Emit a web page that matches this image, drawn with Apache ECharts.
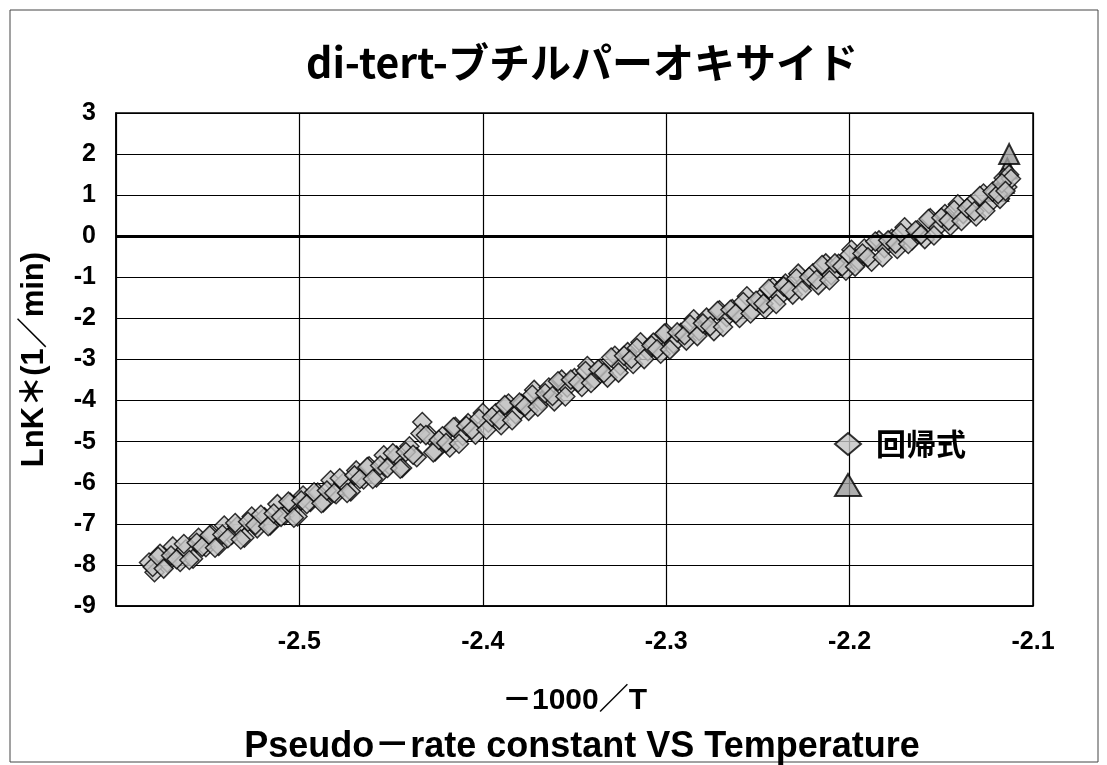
<!DOCTYPE html>
<html>
<head>
<meta charset="utf-8">
<script src="https://cdn.jsdelivr.net/npm/echarts@6/dist/echarts.min.js"></script>
<style>
html, body { margin: 0; padding: 0; background: #fff; }
#view { width: 1107px; height: 765px; }
</style>
</head>
<body>
<div id="view"></div>
<script>
var myChart = echarts.init(document.getElementById('view'));

// -1000/T values of the regression points (first pass along the band)
var regX = [
  -2.582, -2.579, -2.576, -2.572, -2.569, -2.565, -2.562, -2.558, -2.555, -2.551,
  -2.548, -2.544, -2.541, -2.537, -2.534, -2.530, -2.526, -2.523, -2.519, -2.516,
  -2.512, -2.508, -2.505, -2.501, -2.498, -2.494, -2.490, -2.487, -2.483, -2.480,
  -2.476, -2.472, -2.469, -2.465, -2.462, -2.458, -2.454, -2.451, -2.447, -2.444,
  -2.440, -2.436, -2.433, -2.429, -2.426, -2.422, -2.418, -2.415, -2.411, -2.408,
  -2.404, -2.400, -2.397, -2.393, -2.390, -2.386, -2.382, -2.379, -2.375, -2.372,
  -2.368, -2.364, -2.361, -2.357, -2.354, -2.350, -2.346, -2.343, -2.339, -2.336,
  -2.332, -2.328, -2.325, -2.321, -2.318, -2.314, -2.310, -2.307, -2.303, -2.300,
  -2.296, -2.292, -2.289, -2.285, -2.282, -2.278, -2.274, -2.271, -2.267, -2.264,
  -2.260, -2.256, -2.253, -2.249, -2.246, -2.242, -2.238, -2.235, -2.231, -2.228,
  -2.224, -2.220, -2.217, -2.213, -2.210, -2.206, -2.202, -2.199, -2.195, -2.192,
  -2.188, -2.184, -2.181, -2.177, -2.174, -2.170, -2.166, -2.163, -2.159, -2.156,
  -2.152, -2.148, -2.145, -2.141, -2.138, -2.134, -2.131, -2.127, -2.124, -2.121,
  -2.118, -2.116, -2.114, -2.113, -2.112
];
// LnK* values of the regression points (first pass)
var regY = [
  -7.94, -8.18, -7.73, -7.95, -7.55, -7.93, -7.62, -7.85, -7.34, -7.57,
  -7.26, -7.54, -7.04, -7.27, -7.06, -7.34, -6.82, -7.11, -6.84, -7.04,
  -6.52, -6.79, -6.49, -6.82, -6.31, -6.47, -6.24, -6.48, -5.94, -6.28,
  -6.00, -6.21, -5.70, -5.92, -5.60, -5.87, -5.33, -5.57, -5.34, -5.64,
  -5.11, -5.38, -4.52, -4.85, -5.24, -4.87, -5.14, -4.64, -4.86, -4.55,
  -4.83, -4.30, -4.54, -4.31, -4.60, -4.07, -4.34, -4.08, -4.25, -3.74,
  -4.01, -3.68, -4.02, -3.49, -3.68, -3.45, -3.67, -3.16, -3.48, -3.22,
  -3.44, -2.91, -3.15, -2.82, -3.11, -2.58, -2.80, -2.59, -2.86, -2.35,
  -2.62, -2.35, -2.54, -2.02, -2.31, -1.98, -2.31, -1.80, -1.97, -1.77,
  -1.99, -1.46, -1.81, -1.53, -1.77, -1.24, -1.46, -1.15, -1.42, -0.91,
  -1.13, -0.90, -1.19, -0.66, -0.95, -0.67, -0.84, -0.33, -0.61, -0.30,
  -0.62, -0.10, -0.29, -0.06, -0.31, 0.22, -0.10, 0.15, -0.07, 0.44,
  0.21, 0.54, 0.25, 0.78, 0.54, 0.77, 0.48, 1.04, 0.78, 1.07,
  0.91, 1.42, 1.20, 1.50, 1.40
];
// second pass of regression points, between the first ones
var regX2 = [
  -2.580, -2.577, -2.574, -2.570, -2.567, -2.563, -2.560, -2.556, -2.553, -2.549,
  -2.546, -2.542, -2.539, -2.535, -2.532, -2.528, -2.524, -2.521, -2.517, -2.514,
  -2.510, -2.506, -2.503, -2.499, -2.496, -2.492, -2.488, -2.485, -2.481, -2.478,
  -2.474, -2.470, -2.467, -2.463, -2.460, -2.456, -2.452, -2.449, -2.445, -2.442,
  -2.438, -2.434, -2.431, -2.427, -2.424, -2.420, -2.416, -2.413, -2.409, -2.406,
  -2.402, -2.398, -2.395, -2.391, -2.388, -2.384, -2.380, -2.377, -2.373, -2.370,
  -2.366, -2.362, -2.359, -2.355, -2.352, -2.348, -2.344, -2.341, -2.337, -2.334,
  -2.330, -2.326, -2.323, -2.319, -2.316, -2.312, -2.308, -2.305, -2.301, -2.298,
  -2.294, -2.290, -2.287, -2.283, -2.280, -2.276, -2.272, -2.269, -2.265, -2.262,
  -2.258, -2.254, -2.251, -2.247, -2.244, -2.240, -2.236, -2.233, -2.229, -2.226,
  -2.222, -2.218, -2.215, -2.211, -2.208, -2.204, -2.200, -2.197, -2.193, -2.190,
  -2.186, -2.182, -2.179, -2.175, -2.172, -2.168, -2.164, -2.161, -2.157, -2.154,
  -2.150, -2.146, -2.143, -2.139, -2.136, -2.132, -2.129, -2.126, -2.122, -2.119,
  -2.117, -2.115
];
var regY2 = [
  -8.05, -7.80, -8.09, -7.77, -7.86, -7.49, -7.88, -7.46, -7.56, -7.28,
  -7.58, -7.26, -7.35, -6.98, -7.38, -6.95, -7.03, -6.78, -7.06, -6.75,
  -6.83, -6.46, -6.85, -6.43, -6.52, -6.23, -6.50, -6.19, -6.25, -5.89,
  -6.25, -5.82, -5.91, -5.62, -5.91, -5.58, -5.64, -5.28, -5.66, -5.25,
  -5.32, -4.80, -4.84, -5.26, -4.96, -5.03, -4.65, -5.05, -4.62, -4.71,
  -4.44, -4.71, -4.40, -4.47, -4.11, -4.48, -4.05, -4.14, -3.86, -4.15,
  -3.82, -3.89, -3.53, -3.90, -3.49, -3.56, -3.28, -3.57, -3.24, -3.33,
  -2.95, -3.32, -2.91, -2.98, -2.72, -2.99, -2.66, -2.75, -2.37, -2.76,
  -2.34, -2.41, -2.15, -2.43, -2.12, -2.19, -1.82, -2.21, -1.79, -1.88,
  -1.60, -1.88, -1.57, -1.64, -1.28, -1.65, -1.22, -1.31, -1.03, -1.32,
  -0.99, -1.06, -0.70, -1.07, -0.66, -0.73, -0.45, -0.74, -0.42, -0.51,
  -0.13, -0.51, -0.10, -0.18, 0.08, -0.19, 0.14, 0.04, 0.42, 0.02,
  0.45, 0.38, 0.64, 0.37, 0.68, 0.61, 0.98, 0.62, 1.09, 1.03,
  1.29, 1.10
];
// measured points that show above the regression band
var measX = [-2.119, -2.116, -2.114, -2.113];
var measY = [1.10, 1.30, 1.65, 2.00];

var titleText = 'di-tert-ブチルパーオキサイド';
var subText = 'Pseudo－rate constant VS Temperature';
var seriesNames = ['回帰式', '実測値'];

var font = "'Liberation Sans', 'Noto Sans CJK JP', sans-serif";
var cjk = "'Noto Sans CJK JP', sans-serif";

function pairs(xs, ys) {
    var out = [];
    for (var i = 0; i < xs.length; i++) out.push([xs[i], ys[i]]);
    return out;
}

var option = {
    backgroundColor: '#fff',
    animation: false,
    title: [{
        text: titleText,
        left: 577,
        top: 37,
        textAlign: 'center',
        textStyle: { fontFamily: cjk, fontSize: 41, fontWeight: 'bold', color: '#000' }
    }, {
        text: subText,
        left: 577,
        top: 724,
        textAlign: 'center',
        textStyle: { fontFamily: font, fontSize: 36, fontWeight: 'bold', color: '#000' }
    }],
    graphic: [{
        type: 'rect',
        shape: { x: 10, y: 10, width: 1088, height: 752 },
        style: { fill: 'none', stroke: '#444', lineWidth: 1 },
        silent: true
    }],
    legend: {
        orient: 'vertical',
        left: 829,
        top: 423,
        itemWidth: 26,
        itemHeight: 22,
        itemGap: 13,
        data: seriesNames,
        formatter: function (name) {
            return name == seriesNames[0] ? name : '';
        },
        textStyle: { fontFamily: cjk, fontSize: 30, fontWeight: 'bold', color: '#000', lineHeight: 32, padding: [0, 0, 0, 10] }
    },
    grid: {
        left: 116,
        right: 74,
        top: 113,
        bottom: 159,
        show: true,
        borderColor: '#000',
        borderWidth: 1.5
    },
    xAxis: {
        type: 'value',
        min: -2.6,
        max: -2.1,
        interval: 0.1,
        name: '－1000／T',
        nameLocation: 'middle',
        nameGap: 80,
        nameTextStyle: { fontFamily: font, fontSize: 30, fontWeight: 'bold', color: '#000' },
        axisLine: { onZero: false, lineStyle: { color: '#000', width: 1.5 } },
        axisTick: { show: false },
        axisLabel: {
            margin: 24,
            fontFamily: font,
            fontSize: 25,
            fontWeight: 'bold',
            color: '#000',
            formatter: function (v) {
                if (v < -2.55) return '';
                return v.toFixed(1);
            }
        },
        splitLine: { show: true, lineStyle: { color: '#000', width: 1.2 } }
    },
    yAxis: {
        type: 'value',
        min: -9,
        max: 3,
        interval: 1,
        name: 'LnK＊(1／min)',
        nameLocation: 'middle',
        nameGap: 66,
        nameTextStyle: { fontFamily: font, fontSize: 31, fontWeight: 'bold', color: '#000' },
        axisLine: { show: true, lineStyle: { color: '#000', width: 1.5 } },
        axisTick: { show: false },
        axisLabel: { margin: 20, fontFamily: font, fontSize: 25, fontWeight: 'bold', color: '#000' },
        splitLine: { show: true, lineStyle: { color: '#000', width: 1.2 } }
    },
    series: [{
        name: seriesNames[1],
        type: 'scatter',
        symbol: 'triangle',
        symbolSize: 20,
        itemStyle: { color: '#9a9a9a', borderColor: '#000', borderWidth: 2 },
        data: pairs(measX, measY),
        z: 2
    }, {
        name: seriesNames[0],
        type: 'scatter',
        symbol: 'diamond',
        symbolSize: 19,
        itemStyle: { color: '#c4c4c4', borderColor: '#000', borderWidth: 1.5 },
        data: pairs(regX, regY).concat(pairs(regX2, regY2)),
        markLine: {
            silent: true,
            symbol: 'none',
            label: { show: false },
            lineStyle: { color: '#000', width: 3, type: 'solid' },
            data: [{ yAxis: 0 }]
        },
        z: 3
    }]
};

myChart.setOption(option);
</script>
</body>
</html>
